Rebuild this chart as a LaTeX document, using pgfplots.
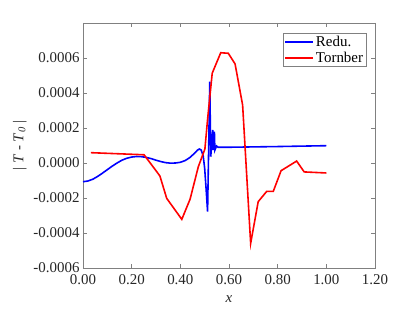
\documentclass[border=0pt]{standalone}
\usepackage{fontspec}
\setmainfont{Liberation Serif}
\usepackage{pgfplots}
\pgfplotsset{compat=1.18}
\definecolor{axgray}{RGB}{128,128,128}
\definecolor{txtgray}{RGB}{38,38,38}
\begin{document}
\begin{tikzpicture}
\begin{axis}[
  scale only axis, width=292bp, height=245bp,
  xmin=0, xmax=1.2, ymin=-0.0006, ymax=0.0008,
  xtick={0,0.2,0.4,0.6,0.8,1.0,1.2},
  ytick={-0.0006,-0.0004,-0.0002,0,0.0002,0.0004,0.0006},
  scaled y ticks=false, scaled x ticks=false,
  xticklabel style={yshift=-3bp, /pgf/number format/.cd, fixed, fixed zerofill, precision=2, assume math mode=true},
  yticklabel style={/pgf/number format/.cd, fixed, fixed zerofill, precision=4, assume math mode=true},
  tick align=inside, tick pos=both, major tick length=4bp,
  axis line style={axgray, line width=0.6pt},
  every tick/.style={axgray, line width=0.6pt},
  ticklabel style={font=\fontsize{15}{17}\selectfont, text=txtgray},
  label style={font=\fontsize{15}{17}\selectfont, text=txtgray},
  xlabel={\textit{x}},
  xlabel style={yshift=-4bp},
  ylabel={| \textit{T} - \textit{T}\textsubscript{\textit{0}} |},
  legend style={at={(0.97,0.96)}, anchor=north east, draw=axgray, font=\fontsize{15}{16}\selectfont, inner sep=1pt, row sep=0pt},
  legend cell align=left,
  legend image code/.code={\draw[#1, line width=1.6pt] (0bp,0bp) -- (28bp,0bp);},
]
\addplot[blue, line width=1.6pt] coordinates {
(0.000,-0.000107) (0.02,-0.000103) (0.04,-0.000093) (0.06,-0.000077) (0.08,-0.000058) (0.10,-0.000038)
(0.12,-0.000018) (0.14,0.000000) (0.16,0.000016) (0.18,0.000027) (0.20,0.000034) (0.22,0.000037)
(0.24,0.000036) (0.26,0.000032) (0.28,0.000025) (0.30,0.000016) (0.32,0.000008) (0.34,0.000002)
(0.36,-0.000001) (0.38,0.000000) (0.40,0.000004) (0.42,0.000014) (0.44,0.000032) (0.46,0.000058)
(0.47,0.000073) (0.478,0.00008) (0.486,0.000074) (0.494,0.00004) (0.50,-0.00003) (0.506,-0.00015)
(0.512,-0.000278) (0.521,0.000465)
(0.525,0.000036) (0.533,0.000189) (0.535,0.000074) (0.540,0.000179) (0.542,0.000074)
(0.549,0.000097) (0.555,0.00009) (0.600,0.00009) (0.800,0.000094) (1.000,0.0000989)
};
\addlegendentry{Redu.}
\addplot[red, line width=1.6pt] coordinates {
(0.032,0.000059) (0.251,0.000047) (0.316,-0.000074) (0.344,-0.000202) (0.406,-0.000322)
(0.440,-0.000207) (0.474,-0.000021) (0.501,0.000080) (0.512,0.00025) (0.531,0.000513)
(0.566,0.00063) (0.597,0.000627) (0.625,0.000566) (0.656,0.000331) (0.689,-0.000459)
(0.720,-0.000221) (0.755,-0.000162) (0.782,-0.000162) (0.814,-0.000044) (0.878,0.000011)
(0.909,-0.000051) (1.000,-0.000057)
};
\addlegendentry{Tornber}
\end{axis}
\path (current axis.south west) ++(-83bp,-44bp) coordinate (bl);
\path (current axis.north east) ++(40bp,23bp) coordinate (tr);
\useasboundingbox (bl) rectangle (tr);
\end{tikzpicture}
\end{document}
